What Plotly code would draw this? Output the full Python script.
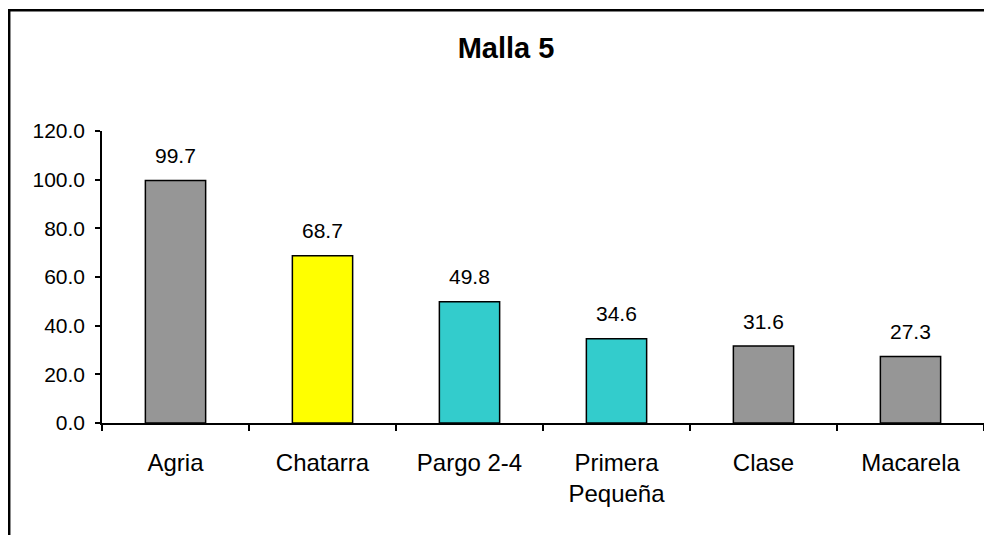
import plotly.graph_objects as go

categories = ["Agria", "Chatarra", "Pargo 2-4", "Primera<br>Pequeña", "Clase", "Macarela"]
values = [99.7, 68.7, 49.8, 34.6, 31.6, 27.3]
labels = ["99.7", "68.7", "49.8", "34.6", "31.6", "27.3"]
colors = ["#969696", "#FFFF00", "#33CCCC", "#33CCCC", "#969696", "#969696"]
y_ticks = [0, 20, 40, 60, 80, 100, 120]
y_tick_text = ["0.0", "20.0", "40.0", "60.0", "80.0", "100.0", "120.0"]

FONT = "Liberation Sans, Arial, sans-serif"

fig = go.Figure(go.Bar(
    x=categories, y=values,
    marker=dict(color=colors, line=dict(color="black", width=1.5)),
    width=0.41, hoverinfo="x+y",
))

for c, v, t in zip(categories, values, labels):
    fig.add_annotation(x=c, y=v, text=t, showarrow=False, yanchor="middle", yshift=25,
                       font=dict(family=FONT, size=21, color="black"))

# page has an 8px body margin; figure coordinates = screen - 8
W, H = 984, 527
L, R, T, B = 94, 8, 122.6, 527 - 414.7
pw, ph = W - L - R, H - T - B

def px(xp):
    return (xp - L) / pw

def py(yp):
    return (H - B - yp) / ph

fig.add_shape(type="rect", xref="paper", yref="paper",
              x0=px(1.2), x1=px(1010), y0=py(560), y1=py(1.7),
              line=dict(color="black", width=2.5), fillcolor="rgba(0,0,0,0)", layer="below")

fig.update_layout(
    width=W, height=H,
    margin=dict(l=L, r=R, t=T, b=B, pad=0),
    paper_bgcolor="white", plot_bgcolor="white",
    showlegend=False,
    font=dict(family=FONT, size=21, color="black"),
    title=dict(text="<b>Malla 5</b>", x=498 / W, xanchor="center", xref="container",
               y=1 - 40 / H, yanchor="middle", yref="container",
               font=dict(family=FONT, size=29, color="black")),
    xaxis=dict(showline=True, linecolor="black", linewidth=1.5, ticks="outside", ticklen=6,
               tickcolor="black", tickwidth=1.5, tickson="boundaries", showgrid=False,
               tickfont=dict(family=FONT, size=24), ticklabelstandoff=17),
    yaxis=dict(range=[0, 120], tickvals=y_ticks, ticktext=y_tick_text, showline=True,
               linecolor="black", linewidth=1.5, ticks="outside", ticklen=5, tickcolor="black",
               tickwidth=1.5, showgrid=False, zeroline=False,
               tickfont=dict(family=FONT, size=21), ticklabelstandoff=6),
)

fig.write_html("out.html")
